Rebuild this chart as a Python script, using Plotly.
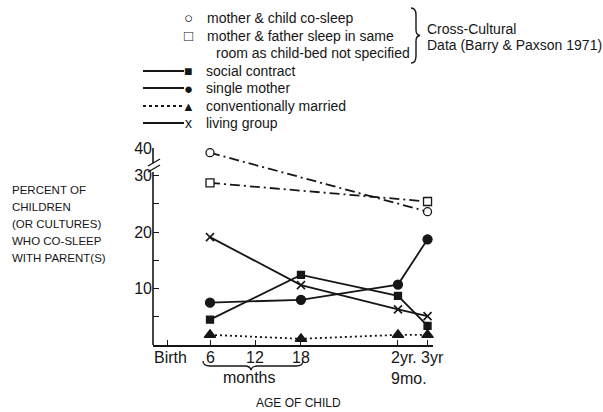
import plotly.graph_objects as go

W, H = 603, 412

# ---------------- data ----------------
age_labels = ["Birth", "6", "12", "18", "2yr.", "3yr"]
age_sublabels = ["", "", "", "", "9mo.", ""]
age_pos = [0.35, 6, 12, 18, 30.8, 34.7]  # positions along the hand-drawn age axis

cross_ages = ["6", "3yr"]
mother_child_cosleep = [38.3, 23.6]
parents_same_room = [28.7, 25.4]

study_ages = ["6", "18", "2yr.", "3yr"]
social_contract = [4.5, 12.4, 8.7, 3.4]
single_mother = [7.5, 8.0, 10.7, 18.7]
conventionally_married = [1.8, 1.1, 1.8, 1.8]
living_group = [19.1, 10.6, 6.3, 5.1]

y_tick_values = [5, 10, 15, 20, 25, 30, 40]
y_tick_labels = ["", "10", "", "20", "", "30", "40"]

# ---------------- scales ----------------
BREAK = 30.0
SQUEEZE = 0.487  # the axis above the break is compressed


def ys(v):
    return v if v <= BREAK else BREAK + (v - BREAK) * SQUEEZE


def xs(ages):
    return [age_pos[age_labels.index(a)] for a in ages]


def P(px, py):
    return px / W, 1 - py / H


INK = "#161616"
FONT = "Liberation Sans, Arial, sans-serif"

fig = go.Figure()


def add_series(ages, vals, dash, symbol, size, fill=INK, mlw=1.3):
    fig.add_trace(go.Scatter(
        x=xs(ages), y=[ys(v) for v in vals], mode="lines+markers",
        line=dict(color=INK, width=1.8, dash=dash),
        marker=dict(symbol=symbol, size=size, color=fill,
                    line=dict(color=INK, width=mlw)),
        cliponaxis=False, showlegend=False, hoverinfo="skip"))


DASHDOT = "10px,4px,2px,4px"
add_series(cross_ages, mother_child_cosleep, DASHDOT, "circle", 8, fill="white")
add_series(cross_ages, parents_same_room, DASHDOT, "square", 8, fill="white")
add_series(study_ages, social_contract, "solid", "square", 7)
add_series(study_ages, single_mother, "solid", "circle", 9)
add_series(study_ages, conventionally_married, "2px,3px", "triangle-up", 10)
add_series(study_ages, living_group, "solid", "x-thin", 8, mlw=1.6)

x0p = 153 / W
fig.update_layout(
    width=W, height=H, margin=dict(l=0, r=0, t=0, b=0, pad=0),
    paper_bgcolor="white", plot_bgcolor="white",
    font=dict(family=FONT, color=INK),
    xaxis=dict(domain=[x0p, 433 / W], range=[-1.52, 35.42], showgrid=False,
               zeroline=False, showline=True, linecolor=INK, linewidth=1.6,
               ticks="inside", ticklen=5, tickwidth=1.3, tickcolor=INK,
               tickvals=age_pos, showticklabels=False, fixedrange=True,
               automargin=False),
    yaxis=dict(domain=[1 - 345 / H, 1 - 148 / H], range=[0, ys(40)],
               showgrid=False, zeroline=False, showline=False,
               ticks="inside", ticklen=6, tickwidth=1.3, tickcolor=INK,
               tickvals=[ys(v) for v in y_tick_values], ticktext=y_tick_labels,
               tickfont=dict(size=16, family=FONT, color=INK), fixedrange=True,
               automargin=False),
)

shapes = []
# broken y axis
shapes.append(dict(type="line", xref="paper", yref="y", x0=x0p, x1=x0p,
                   y0=0, y1=ys(31.3), line=dict(color=INK, width=1.6)))
shapes.append(dict(type="line", xref="paper", yref="y", x0=x0p, x1=x0p,
                   y0=32.2, y1=ys(40), line=dict(color=INK, width=1.6)))
for (ax, ay, bx, by) in [(148, 166, 160, 159), (148, 172, 160, 165)]:
    a, b = P(ax, ay), P(bx, by)
    shapes.append(dict(type="line", xref="paper", yref="paper", x0=a[0], y0=a[1],
                       x1=b[0], y1=b[1], line=dict(color=INK, width=1.4)))


def path_from(points_cmds):
    out = []
    for cmd, pts in points_cmds:
        coords = " ".join("%.5f,%.5f" % P(x, y) for x, y in pts)
        out.append(cmd + " " + coords)
    return " ".join(out)


# brace under "months"
months_brace = path_from([
    ("M", [(203, 361)]), ("Q", [(203, 366), (210, 366)]), ("L", [(245, 366)]),
    ("Q", [(250, 366), (251, 370)]), ("Q", [(252, 366), (257, 366)]),
    ("L", [(296, 366)]), ("Q", [(303, 366), (303, 361)]),
])
shapes.append(dict(type="path", xref="paper", yref="paper", path=months_brace,
                   line=dict(color=INK, width=1.3)))

# legend brace
legend_brace = path_from([
    ("M", [(411, 8)]), ("Q", [(416, 8), (416, 15)]), ("L", [(416, 30)]),
    ("Q", [(416, 35), (420, 35.5)]), ("Q", [(416, 36), (416, 41)]),
    ("L", [(416, 56)]), ("Q", [(416, 63), (411, 63)]),
])
shapes.append(dict(type="path", xref="paper", yref="paper", path=legend_brace,
                   line=dict(color=INK, width=1.4)))

# legend sample lines
for py, dash in [(71, "solid"), (88, "solid"), (106, "dot"), (123, "solid")]:
    a, b = P(143, py), P(184, py)
    shapes.append(dict(type="line", xref="paper", yref="paper", x0=a[0], y0=a[1],
                       x1=b[0], y1=b[1], line=dict(color=INK, width=1.8, dash=dash)))

fig.update_layout(shapes=shapes)

ann = []


def text(px, py, s, size=14, xanchor="left", align="left", **kw):
    x, y = P(px, py)
    ann.append(dict(xref="paper", yref="paper", x=x, y=y, text=s, showarrow=False,
                    xanchor=xanchor, yanchor="middle", align=align,
                    font=dict(size=size, family=FONT, color=INK), **kw))


# legend
legend_rows = [
    ("○", 18, "mother & child co-sleep", 205, 15),
    ("□", 36, "mother & father sleep in same", 205, 15),
    ("", 53, "room as child-bed not specified", 214, 0),
    ("■", 71, "social contract", 204, 14),
    ("●", 88, "single mother", 204, 15),
    ("▲", 106, "conventionally married", 204, 13),
    ("x", 123, "living group", 204, 14),
]
for mk, py, label, tx, msz in legend_rows:
    if mk:
        text(188, py, mk, size=msz, xanchor="center")
    text(tx, py, label, size=14)
text(425, 29, "Cross-Cultural", size=14)
text(425, 45, "Data (Barry & Paxson 1971)", size=14)

# y axis title, one annotation per line
for i, line in enumerate(["PERCENT OF", "CHILDREN", "(OR CULTURES)",
                          "WHO CO-SLEEP", "WITH PARENT(S)"]):
    text(10, 190 + 17 * i, line, size=11.5)

# x tick labels
label_shift = {"Birth": 3, "2yr.": 6, "3yr": 5}
for lab, sub, pos in zip(age_labels, age_sublabels, age_pos):
    ann.append(dict(xref="x", yref="paper", x=pos, y=P(0, 357)[1], text=lab,
                    showarrow=False, xanchor="center", yanchor="middle",
                    xshift=label_shift.get(lab, 0),
                    font=dict(size=16, family=FONT, color=INK)))
    if sub:
        ann.append(dict(xref="x", yref="paper", x=pos, y=P(0, 378)[1], text=sub,
                        showarrow=False, xanchor="center", yanchor="middle", xshift=11,
                        font=dict(size=16, family=FONT, color=INK)))

text(249, 377, "months", size=16, xanchor="center")
text(298, 403, "AGE OF CHILD", size=12, xanchor="center")

fig.update_layout(annotations=ann)
fig.write_html("out.html", config={"displayModeBar": False},
               post_script="document.body.style.margin='0px';")
